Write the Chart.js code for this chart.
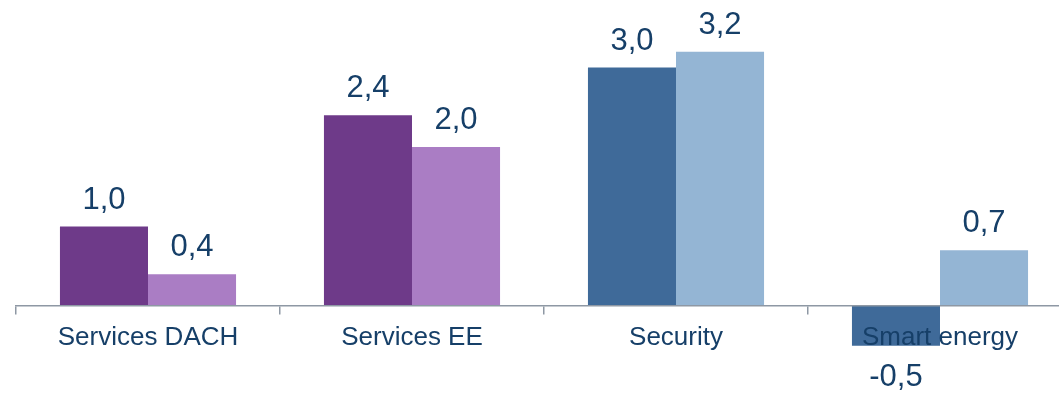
<!DOCTYPE html>
<html>
<head>
<meta charset="utf-8">
<script src="https://cdn.jsdelivr.net/npm/chart.js@4"></script>
<style>
  html, body { margin: 0; padding: 0; background: #fff; }
  #wrap { width: 1059px; height: 394px; overflow: hidden; }
</style>
</head>
<body>
<div id="wrap"><canvas id="segments" width="1072" height="394"></canvas></div>
<script>
// Kategorien und Werte
const categories = ["Services DACH", "Services EE", "Security", "Smart energy"];
const seriesA = [1.0, 2.4, 3.0, -0.5];
const seriesB = [0.4, 2.0, 3.2, 0.7];

// Farben je Segment (dunkel / hell)
const darkColors = ["#6E3A89", "#6E3A89", "#3F6A99", "#3F6A99"];
const lightColors = ["#AA7DC4", "#AA7DC4", "#94B5D4", "#94B5D4"];

const labelColor = "#163F68";
const axisColor = "#8E98A4";

// Werte über/unter den Balken
const valueLabels = {
  id: "valueLabels",
  afterDatasetsDraw(chart) {
    const { ctx } = chart;
    const size = 31;
    ctx.save();
    ctx.font = size + "px 'Liberation Sans', Arial, sans-serif";
    ctx.fillStyle = labelColor;
    ctx.textAlign = "center";
    ctx.textBaseline = "alphabetic";
    chart.data.datasets.forEach((ds, i) => {
      chart.getDatasetMeta(i).data.forEach((bar, j) => {
        const v = ds.data[j];
        const text = v.toFixed(1).replace(".", ",");
        if (v >= 0) {
          ctx.fillText(text, bar.x, bar.y - 18);
        } else {
          ctx.fillText(text, bar.x, bar.y + 18 + size * 0.716);
        }
      });
    });
    ctx.restore();
  },
};

new Chart(document.getElementById("segments"), {
  type: "bar",
  data: {
    labels: categories,
    datasets: [
      { data: seriesA, backgroundColor: darkColors, borderWidth: 0 },
      { data: seriesB, backgroundColor: lightColors, borderWidth: 0 },
    ],
  },
  options: {
    responsive: false,
    animation: false,
    layout: { padding: { left: 16, right: 0, top: 0, bottom: 0 } },
    datasets: {
      bar: { categoryPercentage: 0.667, barPercentage: 1.0 },
    },
    plugins: {
      legend: { display: false },
      tooltip: { enabled: false },
    },
    scales: {
      x: {
        position: { y: 0 },
        grid: {
          offset: true,
          drawOnChartArea: false,
          drawTicks: true,
          tickLength: 8,
          color: axisColor,
          lineWidth: 1.5,
          z: 1,
        },
        border: { display: true, color: axisColor, width: 1.5, z: 1 },
        ticks: {
          z: 1,
          color: labelColor,
          padding: 8,
          font: { family: "'Liberation Sans', Arial, sans-serif", size: 26 },
        },
      },
      y: {
        display: false,
        min: -1.107,
        max: 3.85,
      },
    },
  },
  plugins: [valueLabels],
});
</script>
</body>
</html>
